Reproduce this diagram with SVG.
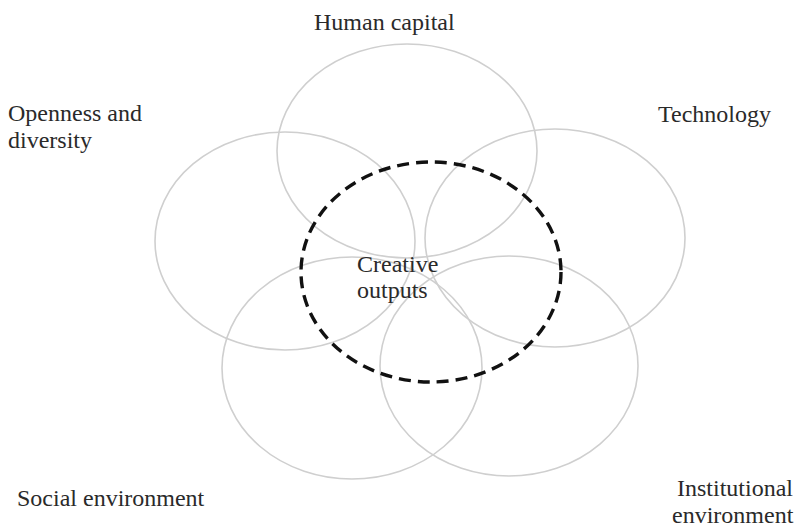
<svg xmlns="http://www.w3.org/2000/svg" width="801" height="529" viewBox="0 0 801 529">
<style>
.c{fill:none;stroke:#cfcfcf;stroke-width:1.6}
.d{fill:none;stroke:#111;stroke-width:3.4;stroke-dasharray:12 7}
text{font-family:"Liberation Serif","Times New Roman",serif;font-size:24px;fill:#2a2a2a}
</style>
<rect width="801" height="529" fill="#fff"/>
<g id="human-capital">
<ellipse class="c" cx="407" cy="151" rx="130" ry="107"/>
<text x="314" y="30">Human capital</text>
</g>
<g id="technology">
<ellipse class="c" cx="555" cy="238" rx="130" ry="109"/>
<text x="658" y="122">Technology</text>
</g>
<g id="openness">
<ellipse class="c" cx="285" cy="241" rx="130" ry="109"/>
<text x="8" y="121">Openness and</text>
<text x="8" y="148">diversity</text>
</g>
<g id="social-environment">
<ellipse class="c" cx="352" cy="368" rx="130" ry="111"/>
<text x="17" y="506">Social environment</text>
</g>
<g id="institutional-environment">
<ellipse class="c" cx="509" cy="366" rx="129" ry="110"/>
<text x="677" y="496">Institutional</text>
<text x="672" y="523">environment</text>
</g>
<g id="creative-outputs">
<ellipse class="d" cx="431" cy="272" rx="130" ry="110"/>
<text x="357" y="272">Creative</text>
<text x="357" y="298">outputs</text>
</g>
<g id="connectors"></g>
</svg>
